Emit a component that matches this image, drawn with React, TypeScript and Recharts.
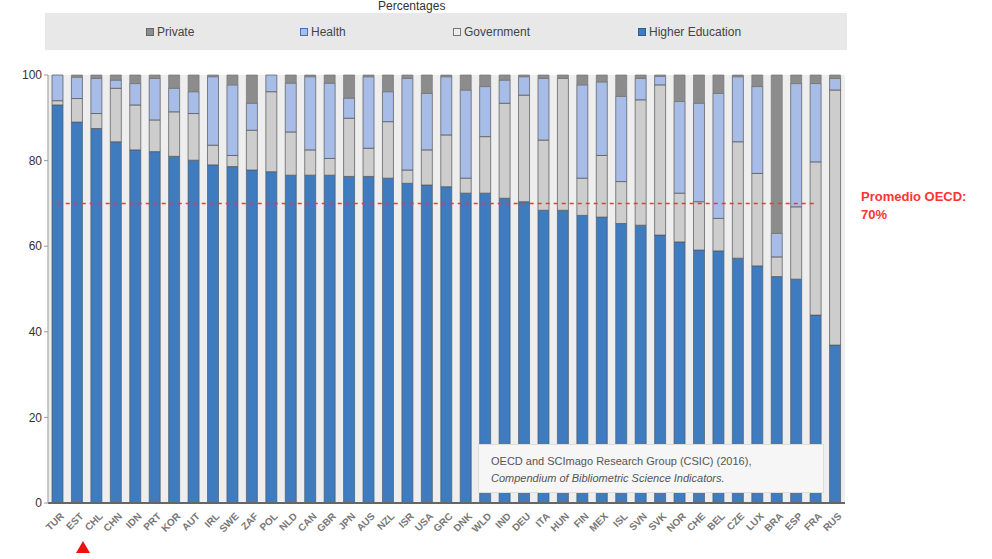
import React from 'react';
import { BarChart, Bar, XAxis, YAxis, CartesianGrid, ReferenceLine } from 'recharts';

// Share of scientific publications by sector, percentages
const countries = [
  'TUR', 'EST', 'CHL', 'CHN', 'IDN', 'PRT', 'KOR', 'AUT', 'IRL', 'SWE', 'ZAF',
  'POL', 'NLD', 'CAN', 'GBR', 'JPN', 'AUS', 'NZL', 'ISR', 'USA', 'GRC', 'DNK',
  'WLD', 'IND', 'DEU', 'ITA', 'HUN', 'FIN', 'MEX', 'ISL', 'SVN', 'SVK', 'NOR',
  'CHE', 'BEL', 'CZE', 'LUX', 'BRA', 'ESP', 'FRA', 'RUS',
];
const higherEducation = [
  93.0, 89.0, 87.5, 84.4, 82.5, 82.1, 81.0, 80.1, 79.0, 78.6, 77.8,
  77.4, 76.6, 76.6, 76.6, 76.3, 76.3, 75.9, 74.7, 74.3, 73.9, 72.4,
  72.4, 71.2, 70.4, 68.4, 68.4, 67.2, 66.8, 65.3, 64.9, 62.6, 61.0,
  59.1, 58.9, 57.2, 55.4, 52.9, 52.3, 43.9, 36.9,
];
const government = [
  1.0, 5.5, 3.5, 12.5, 10.5, 7.4, 10.4, 10.9, 4.6, 2.6, 9.3,
  18.7, 10.1, 5.9, 3.9, 13.6, 6.6, 13.2, 3.1, 8.2, 12.1, 3.5,
  13.2, 22.2, 24.9, 16.4, 30.8, 8.7, 14.4, 9.8, 29.3, 35.1, 11.4,
  11.3, 7.6, 27.2, 21.6, 4.6, 16.9, 35.8, 59.6,
];
const health = [
  6.0, 5.0, 8.2, 1.9, 5.0, 9.7, 5.5, 5.1, 16.0, 16.5, 6.3,
  3.9, 11.4, 17.1, 17.6, 4.7, 16.7, 7.0, 21.4, 13.2, 13.6, 20.6,
  11.7, 5.4, 4.3, 14.4, 0.0, 21.8, 17.2, 19.9, 5.0, 2.0, 21.4,
  23.0, 29.2, 15.2, 20.3, 5.5, 28.8, 18.3, 2.7,
];
const privateSector = [
  0.0, 0.5, 0.8, 1.2, 2.0, 0.8, 3.1, 3.9, 0.4, 2.3, 6.6,
  0.0, 1.9, 0.4, 1.9, 5.4, 0.4, 3.9, 0.8, 4.3, 0.4, 3.5,
  2.7, 1.2, 0.4, 0.8, 0.8, 2.3, 1.6, 5.0, 0.8, 0.3, 6.2,
  6.6, 4.3, 0.4, 2.7, 37.0, 2.0, 2.0, 0.8,
];
const yTicks = [0, 20, 40, 60, 80, 100];
const oecdAverage = 70;

const COLORS = {
  he: '#3e7bbf',
  gov: '#cdcdcd',
  health: '#a7bde8',
  priv: '#8c8c8c',
};

const rows = countries.map((c, i) => ({
  country: c,
  he: higherEducation[i],
  gov: government[i],
  health: health[i],
  priv: privateSector[i],
}));

const legendItems = [
  { label: 'Private', fill: COLORS.priv, border: '#666', left: 146 },
  { label: 'Health', fill: COLORS.health, border: '#4a6fb5', left: 300 },
  { label: 'Government', fill: '#ececec', border: '#777', left: 453 },
  { label: 'Higher Education', fill: COLORS.he, border: '#2d5d96', left: 638 },
];

const font = '"Liberation Sans", Arial, sans-serif';

const AngledTick = (props: any) => {
  const { x, y, payload } = props;
  return (
    <g transform={`translate(${x + 4},${y + 3})`}>
      <text
        textAnchor="end"
        transform="rotate(-45)"
        fontSize={10}
        fontWeight="bold"
        fill="#777"
        fontFamily={font}
        dy={4}
      >
        {payload.value}
      </text>
    </g>
  );
};

export default function App() {
  return (
    <div style={{ position: 'absolute', left: 0, top: 0, width: 992, height: 559, background: '#fff', fontFamily: font, overflow: 'hidden' }}>
      {/* title, sits right at the top edge */}
      <div style={{ position: 'absolute', left: 378, top: 0, fontSize: 12, lineHeight: '12px', color: '#333' }}>Percentages</div>

      {/* legend band */}
      <div style={{ position: 'absolute', left: 45, top: 13, width: 802, height: 37, background: '#e8e8e8' }}>
        {legendItems.map((it) => (
          <div key={it.label} style={{ position: 'absolute', left: it.left - 45, top: 12, display: 'flex', alignItems: 'center', fontSize: 12, color: '#444' }}>
            <span style={{ display: 'inline-block', width: 6, height: 6, background: it.fill, border: `1px solid ${it.border}`, marginRight: 3 }} />
            {it.label}
          </div>
        ))}
      </div>

      <BarChart
        width={992}
        height={559}
        data={rows}
        margin={{ top: 75, right: 147, bottom: 16, left: 8 }}
        barSize={11}
        style={{ position: 'absolute', left: 0, top: 0 }}
      >
        <CartesianGrid horizontal={false} vertical={false} fill="#eeeeee" />
        <XAxis
          dataKey="country"
          interval={0}
          height={40}
          tickLine={false}
          axisLine={{ stroke: '#666', strokeWidth: 2 }}
          tick={AngledTick}
        />
        <XAxis xAxisId="top" orientation="top" dataKey="country" height={0} tick={false} tickLine={false} axisLine={{ stroke: '#aaa', strokeWidth: 1.5 }} />
        <YAxis
          domain={[0, 100]}
          ticks={yTicks}
          width={40}
          tickSize={4}
          tick={{ fontSize: 12, fill: '#333', fontFamily: font }}
          axisLine={{ stroke: '#999' }}
          tickLine={{ stroke: '#999' }}
        />
        <YAxis yAxisId="right" orientation="right" domain={[0, 100]} width={0} tick={false} tickLine={false} axisLine={{ stroke: '#999', strokeWidth: 3 }} />
        <Bar dataKey="he" stackId="s" fill={COLORS.he} stroke="#4d5a6a" strokeWidth={0.7} isAnimationActive={false} />
        <Bar dataKey="gov" stackId="s" fill={COLORS.gov} stroke="#555" strokeWidth={0.7} isAnimationActive={false} />
        <Bar dataKey="health" stackId="s" fill={COLORS.health} stroke="#555" strokeWidth={0.7} isAnimationActive={false} />
        <Bar dataKey="priv" stackId="s" fill={COLORS.priv} stroke="#777" strokeWidth={0.7} isAnimationActive={false} />
        <ReferenceLine
          segment={[{ x: countries[0], y: oecdAverage }, { x: countries[countries.length - 2], y: oecdAverage }]}
          stroke="#ff3030"
          strokeWidth={1.5}
          strokeDasharray="4 4"
        />
      </BarChart>

      {/* average annotation */}
      <div style={{ position: 'absolute', left: 861, top: 188, fontSize: 13, lineHeight: '18px', color: '#ff3333', fontWeight: 'bold' }}>
        Promedio OECD:
        <br />
        70%
      </div>

      {/* source note */}
      <div style={{ position: 'absolute', left: 478, top: 444, width: 346, height: 49, background: '#f6f6f6', border: '1px solid #ddd', fontSize: 11, color: '#555', lineHeight: '17px', padding: '8px 0 0 12px', boxSizing: 'border-box' }}>
        OECD and SCImago Research Group (CSIC) (2016),
        <br />
        <i>Compendium of Bibliometric Science Indicators.</i>
      </div>

      {/* red marker under CHL */}
      <div style={{ position: 'absolute', left: 76, top: 541, width: 0, height: 0, borderLeft: '7px solid transparent', borderRight: '7px solid transparent', borderBottom: '12px solid #ee1111' }} />
    </div>
  );
}
